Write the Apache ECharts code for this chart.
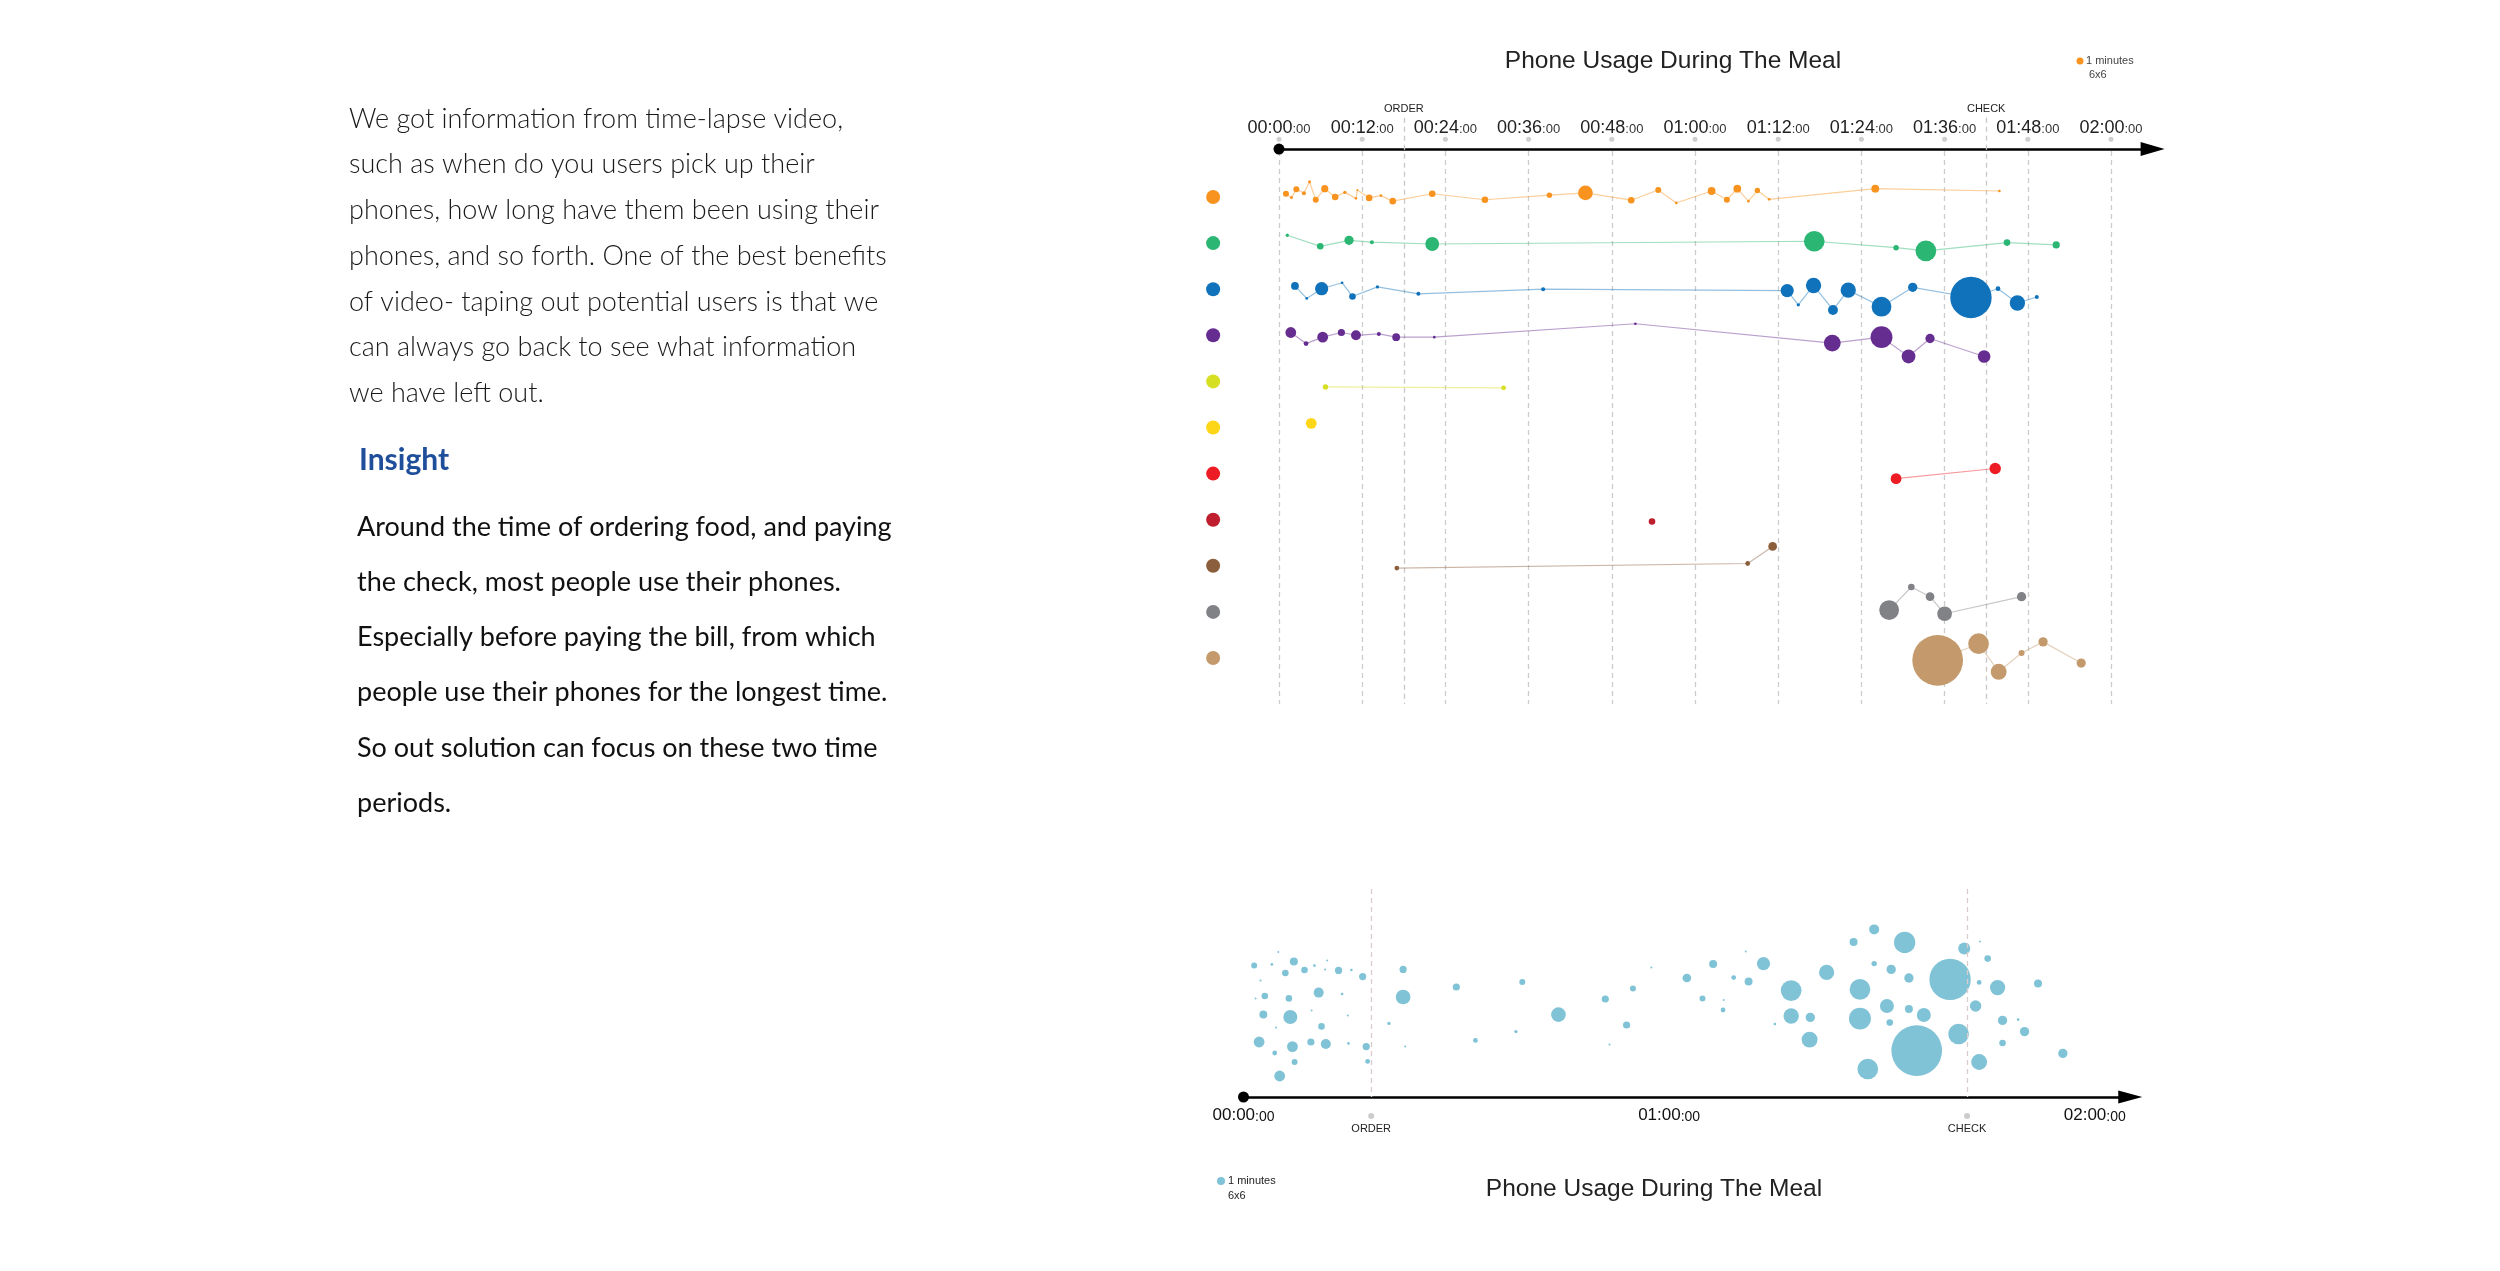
<!DOCTYPE html>
<html><head><meta charset="utf-8">
<script src="https://cdn.jsdelivr.net/npm/echarts@6/dist/echarts.min.js"></script>
<style>html,body{margin:0;padding:0;background:#fff}#main{width:2500px;height:1271px}</style>
</head><body><div id="main"></div>
<script>
// ---------- DATA ----------
const tickMinutes = [0, 12, 24, 36, 48, 60, 72, 84, 96, 108, 120];
const topTickLabels = ['00:00','00:12','00:24','00:36','00:48','01:00','01:12','01:24','01:36','01:48','02:00'];
const bottomTickMinutes = [0, 60, 120];
const bottomTickLabels = ['00:00','01:00','02:00'];
const eventNames = ['ORDER', 'CHECK'];
const eventMinutes = [18, 102];

// one array per diner: [minute of meal, jitter inside lane, minutes of phone use]
const person1 = [[1.0,-0.07,1.0],[1.8,0.01,0.5],[2.5,-0.17,1.0],[3.6,-0.08,0.67],[4.4,-0.33,0.5],[5.3,0.06,1.0],[6.6,-0.18,1.2],[8.1,0.0,1.1],[9.5,-0.10,0.55],[11.1,0.03,0.45],[11.3,-0.15,0.33],[13.0,0.02,1.1],[14.7,-0.03,0.45],[16.4,0.09,1.1],[22.1,-0.07,1.1],[29.7,0.06,1.1],[39.0,-0.04,0.9],[44.2,-0.09,2.45],[50.8,0.07,1.1],[54.7,-0.15,1.0],[57.3,0.13,0.45],[62.4,-0.13,1.3],[64.6,0.06,1.0],[66.1,-0.18,1.3],[67.7,0.09,0.45],[69.0,-0.14,0.9],[70.7,0.05,0.45],[86.0,-0.18,1.3],[103.9,-0.13,0.45]];
const person2 = [[1.2,-0.17,0.55],[5.95,0.07,1.1],[10.1,-0.06,1.55],[13.4,-0.02,0.67],[22.1,0.02,2.3],[77.2,-0.04,3.45],[89.0,0.10,0.9],[93.3,0.17,3.45],[105.0,-0.01,1.1],[112.1,0.04,1.2]];
const person3 = [[2.3,-0.07,1.3],[4.0,0.20,0.45],[6.15,-0.01,2.2],[9.1,-0.14,0.45],[10.6,0.16,1.1],[14.2,-0.05,0.55],[20.1,0.10,0.67],[38.1,0.0,0.67],[73.3,0.03,2.2],[74.9,0.34,0.55],[77.1,-0.08,2.55],[79.9,0.45,1.65],[82.1,0.02,2.55],[86.9,0.38,3.3],[91.4,-0.04,1.55],[99.8,0.18,6.9],[103.7,-0.01,0.8],[106.5,0.30,2.55],[109.3,0.17,0.67]];
const person4 = [[1.7,-0.06,1.8],[3.9,0.18,0.8],[6.3,0.04,1.8],[9.0,-0.06,1.2],[11.1,0.0,1.65],[14.4,-0.03,0.67],[16.9,0.04,1.3],[22.4,0.04,0.45],[51.4,-0.25,0.45],[79.8,0.17,2.8],[86.9,0.04,3.65],[90.8,0.46,2.3],[93.9,0.07,1.55],[101.7,0.46,2.1]];
const person5 = [[6.7,0.12,0.9],[32.4,0.14,0.8]];
const person6 = [[4.65,-0.09,1.8]];
const person7 = [[89.0,0.11,1.8],[103.3,-0.11,1.9]];
const person8 = [[53.8,0.04,1.1]];
const person9 = [[17.0,0.05,0.8],[67.6,-0.05,0.8],[71.2,-0.42,1.45]];
const person10 = [[88.0,-0.04,3.3],[91.2,-0.54,1.1],[93.9,-0.33,1.45],[96.0,0.04,2.45],[107.1,-0.33,1.55]];
const person11 = [[95.0,0.05,8.45],[100.9,-0.31,3.45],[103.8,0.30,2.65],[107.1,-0.11,1.0],[110.2,-0.35,1.55],[115.7,0.11,1.55]];

// everyone together: [minute of meal, spread level, minutes of phone use]
const groupUsage = [[1.5,65.7,1.0],[4.0,66.3,0.45],[4.9,72.5,0.33],[7.1,67.8,1.33],[5.9,62.0,1.1],[8.6,63.5,1.1],[10.0,65.7,0.45],[11.5,63.8,0.33],[11.8,68.2,0.22],[13.4,63.3,1.2],[15.2,63.5,0.45],[16.8,60.2,1.2],[2.4,58.2,0.33],[1.7,49.3,0.33],[3.0,50.5,1.1],[6.4,49.3,1.1],[10.6,52.2,1.67],[13.9,51.5,0.45],[2.8,41.3,1.33],[6.6,40.0,2.33],[9.6,43.2,0.33],[14.7,40.8,0.33],[11.0,35.3,1.1],[4.6,34.7,0.22],[2.2,27.5,1.8],[6.9,25.2,1.8],[9.5,27.5,1.2],[11.6,26.5,1.67],[14.8,26.8,0.45],[17.3,25.2,1.2],[4.4,22.0,0.8],[7.2,17.5,1.0],[17.5,17.8,0.8],[5.1,10.5,1.8],[22.5,63.8,1.2],[22.5,50.0,2.45],[20.5,36.8,0.55],[22.8,25.3,0.33],[30.0,55.0,1.2],[32.7,28.3,0.8],[39.3,57.5,1.0],[38.4,32.7,0.55],[44.4,41.2,2.45],[51.0,49.0,1.2],[54.9,54.2,1.0],[54.0,36.0,1.2],[51.6,26.3,0.33],[57.5,64.7,0.33],[62.5,59.5,1.45],[64.7,49.3,1.0],[66.2,66.5,1.33],[69.1,59.7,0.8],[67.7,48.5,0.33],[67.6,43.5,0.8],[70.8,72.8,0.33],[71.2,57.8,1.33],[73.3,66.7,2.2],[74.9,36.5,0.45],[77.2,53.2,3.45],[77.2,40.5,2.55],[79.9,39.8,1.55],[79.8,28.7,2.65],[82.2,62.3,2.55],[86.0,77.5,1.33],[88.9,83.8,1.67],[86.9,53.8,3.45],[86.9,39.2,3.65],[88.9,66.7,0.9],[88.0,14.0,3.45],[90.7,45.5,2.33],[91.1,37.2,1.1],[91.3,63.8,1.55],[93.2,77.3,3.55],[93.8,59.5,1.55],[93.8,44.0,1.33],[95.9,41.0,2.33],[94.9,23.2,8.45],[99.6,58.8,6.9],[100.8,31.5,3.45],[101.6,74.2,2.0],[103.8,77.8,0.33],[104.9,69.2,1.1],[103.7,57.3,0.8],[103.2,45.5,1.9],[106.3,54.7,2.55],[103.7,17.5,2.65],[107.0,38.3,1.55],[109.2,38.7,0.45],[110.1,32.7,1.55],[107.0,27.0,1.1],[112.0,56.7,1.33],[115.5,21.8,1.55]];

const introLines = [
  'We got information from time-lapse video,',
  'such as when do you users pick up their',
  'phones, how long have them been using their',
  'phones, and so forth. One of the best benefits',
  'of video- taping out potential users is that we',
  'can always go back to see what information',
  'we have left out.'
];
const insightLines = [
  'Around the time of ordering food, and paying',
  'the check, most people use their phones.',
  'Especially before paying the bill, from which',
  'people use their phones for the longest time.',
  'So out solution can focus on these two time',
  'periods.'
];

// ---------- STYLE / LAYOUT ----------
const persons = [person1, person2, person3, person4, person5, person6, person7, person8, person9, person10, person11];
const colors = ['#f7931e','#2bb673','#0f72ba','#662d91','#d7df23','#fcd617','#ed1c24','#be1e2d','#8b5e3c','#808285','#c49a6c'];
const bubbleBlue = '#80c3d6';
const FONT = '"Liberation Sans", Arial, sans-serif';
const TEXT_FONT = 'Lato, "Open Sans", sans-serif';
const PX_PER_MIN = 6;          // legend: 1 minute = 6x6
const KEY_X = -9.5;            // lane key dots left of the time axis
const TOP_AXIS_Y = -1.04, TOP_TICKDOT_Y = -1.25, TOP_LINE_Y0 = -1.0, TOP_EVENT_Y0 = -1.72, TOP_LINE_Y1 = 11.0;
const BOT_EVENT_Y = -9.5, BOT_LINE_TOP = 104;

const sizeOf = v => Math.max(2, v[2] * PX_PER_MIN);

function topLabel(v) {
  const i = tickMinutes.indexOf(v);
  return i < 0 ? '' : '{a|' + topTickLabels[i] + '}{b|:00}';
}
function bottomLabel(v) {
  const i = bottomTickMinutes.indexOf(v);
  return i < 0 ? '' : '{a|' + bottomTickLabels[i] + '}{b|:00}';
}

const series = [];
persons.forEach((p, i) => {
  series.push({
    type: 'line', name: 'P' + (i + 1), xAxisIndex: 0, yAxisIndex: 0,
    data: p.map(d => [d[0], i + d[1], d[2]]),
    symbol: 'circle', symbolSize: sizeOf, showAllSymbol: true, clip: false,
    lineStyle: { width: 1.2, color: colors[i], opacity: 0.45 },
    itemStyle: { color: colors[i], opacity: 1 },
    emphasis: { disabled: true }, z: 5, silent: true
  });
});
// lane key dots
series.push({
  type: 'scatter', xAxisIndex: 0, yAxisIndex: 0, clip: false, silent: true,
  data: colors.map((c, i) => ({ value: [KEY_X, i], itemStyle: { color: c, opacity: 1 } })),
  symbolSize: 14
});
// tick dots + dashed time lines
series.push({
  type: 'scatter', xAxisIndex: 0, yAxisIndex: 0, silent: true,
  data: tickMinutes.map(v => [v, TOP_TICKDOT_Y]),
  symbolSize: 5, itemStyle: { color: '#cfcfcf', opacity: 1 },
  markLine: {
    silent: true, symbol: ['none', 'none'], animation: false,
    label: { show: false },
    lineStyle: { type: [5, 4], color: '#cccccc', width: 1.3 },
    data: tickMinutes.map(v => [{ coord: [v, TOP_LINE_Y0] }, { coord: [v, TOP_LINE_Y1] }])
  }
});
// order / check lines (top)
series.push({
  type: 'scatter', xAxisIndex: 0, yAxisIndex: 0, silent: true,
  data: eventMinutes.map(v => [v, TOP_EVENT_Y0]), symbolSize: 0,
  markLine: {
    silent: true, symbol: ['none', 'none'], animation: false,
    label: { show: true, position: 'start', formatter: '{b}', distance: 3, fontSize: 11, fontFamily: FONT, color: '#222' },
    lineStyle: { type: [5, 4], color: '#c8c8c8', width: 1.3 },
    data: eventMinutes.map((v, i) => [{ coord: [v, TOP_EVENT_Y0], name: eventNames[i] }, { coord: [v, TOP_LINE_Y1] }])
  }
});
// axis start dot (top)
series.push({
  type: 'scatter', xAxisIndex: 0, yAxisIndex: 0, silent: true, clip: false,
  data: [[tickMinutes[0], TOP_AXIS_Y]], symbolSize: 11, itemStyle: { color: '#000', opacity: 1 }, z: 10
});

// bottom bubbles
series.push({
  type: 'scatter', xAxisIndex: 1, yAxisIndex: 1, silent: true,
  data: groupUsage, symbolSize: sizeOf,
  itemStyle: { color: bubbleBlue, opacity: 1 },
  markLine: {
    silent: true, symbol: ['none', 'none'], animation: false,
    label: { show: false },
    lineStyle: { type: [5, 4], color: '#d9cccc', width: 1.3 },
    data: eventMinutes.map(v => [{ coord: [v, BOT_LINE_TOP] }, { coord: [v, 0] }])
  }
});
// bottom event dots + labels
series.push({
  type: 'scatter', xAxisIndex: 1, yAxisIndex: 1, silent: true,
  data: eventMinutes.map((v, i) => ({ name: eventNames[i], value: [v, BOT_EVENT_Y] })),
  symbolSize: 6, itemStyle: { color: '#cccccc', opacity: 1 },
  label: { show: true, position: 'bottom', distance: 4, formatter: '{b}', fontSize: 11, fontFamily: FONT, color: '#222' }
});
// axis start dot (bottom)
series.push({
  type: 'scatter', xAxisIndex: 1, yAxisIndex: 1, silent: true, clip: false,
  data: [[bottomTickMinutes[0], 0]], symbolSize: 11, itemStyle: { color: '#000', opacity: 1 }, z: 10
});

const richTop = {
  a: { fontSize: 18, fontFamily: FONT, color: '#222', verticalAlign: 'bottom' },
  b: { fontSize: 13, fontFamily: FONT, color: '#333', verticalAlign: 'bottom', padding: [0, 0, 1, 0] }
};
const richBot = {
  a: { fontSize: 17, fontFamily: FONT, color: '#111', verticalAlign: 'bottom' },
  b: { fontSize: 14, fontFamily: FONT, color: '#111', verticalAlign: 'bottom' }
};

const option = {
  animation: false,
  backgroundColor: '#ffffff',
  grid: [
    { left: 1279, top: 116.3, width: 873.6, height: 590.1 },
    { left: 1243.5, top: 880, width: 886.75, height: 260 }
  ],
  xAxis: [
    {
      gridIndex: 0, type: 'value', position: 'top', offset: -32.7,
      min: 0, max: 126, interval: 12,
      axisLine: { show: true, onZero: false, lineStyle: { color: '#000', width: 2.6 }, symbol: ['none', 'triangle'], symbolSize: [14, 24] },
      axisTick: { show: false }, splitLine: { show: false },
      axisLabel: { margin: 12, showMaxLabel: false, formatter: topLabel, rich: richTop }
    },
    {
      gridIndex: 1, type: 'value', position: 'bottom', offset: -43,
      min: 0, max: 125, interval: 60,
      axisLine: { show: true, onZero: false, lineStyle: { color: '#000', width: 2.6 }, symbol: ['none', 'triangle'], symbolSize: [13, 24] },
      axisTick: { show: false }, splitLine: { show: false },
      axisLabel: { margin: 10, showMaxLabel: false, formatter: bottomLabel, rich: richBot }
    }
  ],
  yAxis: [
    { gridIndex: 0, type: 'value', min: -1.75, max: 11.05, inverse: true, show: false },
    { gridIndex: 1, type: 'value', min: -21.5, max: 108.5, show: false }
  ],
  graphic: [
    { type: 'text', x: 349, y: 119 - 22.85, style: { text: introLines.join('\n'), fontFamily: TEXT_FONT, fontWeight: 300, fontSize: 27, lineHeight: 45.7, fill: '#1a1a1a', align: 'left', verticalAlign: 'top' } },
    { type: 'text', x: 359, y: 460, style: { text: 'Insight', fontFamily: TEXT_FONT, fontWeight: 'bold', fontSize: 30, fill: '#1f4e9a', align: 'left', verticalAlign: 'middle' } },
    { type: 'text', x: 357, y: 527 - 27.6, style: { text: insightLines.join('\n'), fontFamily: TEXT_FONT, fontSize: 27, lineHeight: 55.2, fill: '#111', align: 'left', verticalAlign: 'top' } },
    { type: 'text', x: 1673, y: 61, style: { text: 'Phone Usage During The Meal', fontFamily: FONT, fontSize: 24.5, fill: '#222', align: 'center', verticalAlign: 'middle' } },
    { type: 'circle', shape: { cx: 2080, cy: 61, r: 3.5 }, style: { fill: colors[0] } },
    { type: 'text', x: 2086, y: 61, style: { text: '1 minutes', fontFamily: FONT, fontSize: 11, fill: '#444', align: 'left', verticalAlign: 'middle' } },
    { type: 'text', x: 2089, y: 75, style: { text: '6x6', fontFamily: FONT, fontSize: 11, fill: '#444', align: 'left', verticalAlign: 'middle' } },
    { type: 'text', x: 1654, y: 1189, style: { text: 'Phone Usage During The Meal', fontFamily: FONT, fontSize: 24.5, fill: '#222', align: 'center', verticalAlign: 'middle' } },
    { type: 'circle', shape: { cx: 1221, cy: 1181, r: 4 }, style: { fill: bubbleBlue } },
    { type: 'text', x: 1228, y: 1181, style: { text: '1 minutes', fontFamily: FONT, fontSize: 11, fill: '#222', align: 'left', verticalAlign: 'middle' } },
    { type: 'text', x: 1228, y: 1196, style: { text: '6x6', fontFamily: FONT, fontSize: 11, fill: '#222', align: 'left', verticalAlign: 'middle' } }
  ],
  series: series
};

const chart = echarts.init(document.getElementById('main'), null, { width: 2500, height: 1271 });
chart.setOption(option);
</script>
</body></html>
